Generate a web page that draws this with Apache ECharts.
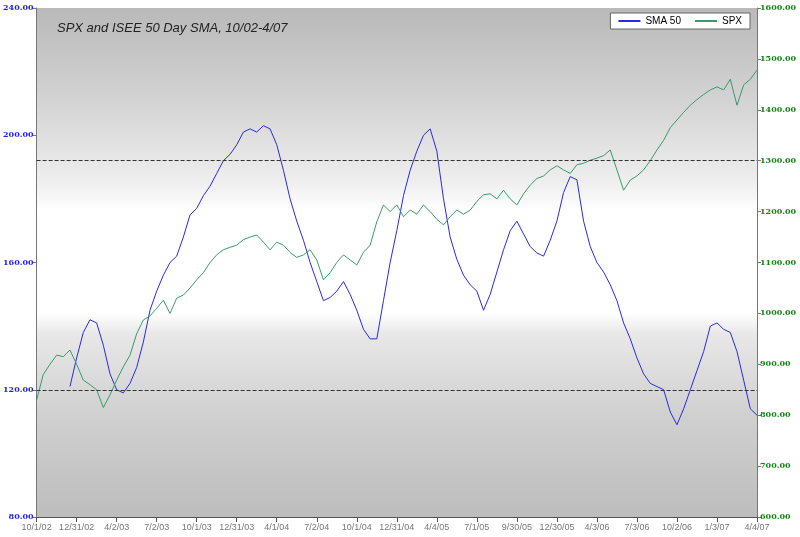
<!DOCTYPE html>
<html>
<head>
<meta charset="utf-8">
<script src="https://cdn.jsdelivr.net/npm/echarts@6/dist/echarts.min.js"></script>
<style>html,body{margin:0;padding:0;background:#fff}#chart{width:800px;height:537px}</style>
</head>
<body>
<div id="chart"></div>
<script>
// quarterly tick labels, 6 points per quarter
var tickLabels = ['10/1/02','12/31/02','4/2/03','7/2/03','10/1/03','12/31/03','4/1/04','7/2/04','10/1/04','12/31/04','4/4/05','7/1/05','9/30/05','12/30/05','4/3/06','7/3/06','10/2/06','1/3/07','4/4/07'];

var sma50 = [null,null,null,null,null,
  121,130,138,142,141,134,125,120,119,122,127,135,145,151,156,160,162,168,175,177,
  181,184,188,192,194,197,201,202,201,203,202,197,189,180,173,167,160,154,148,149,
  151,154,150,145,139,136,136,148,160,170,181,189,195,200,202,195,180,168,161,156,
  153,151,145,150,157,164,170,173,169,165,163,162,167,173,182,187,186,173,165,160,
  157,153,148,141,136,130,125,122,121,120,113,109,114,120,126,132,140,141,139,138,
  132,123,114,112];

var spx = [830,880,900,918,915,928,900,869,860,850,815,840,869,895,918,960,987,995,1010,1026,
  1000,1030,1036,1050,1066,1080,1100,1115,1125,1130,1134,1145,1150,1154,1140,1125,1140,1134,1120,1110,
  1115,1125,1105,1066,1080,1100,1115,1105,1095,1120,1134,1180,1213,1200,1213,1190,1203,1195,1213,1200,
  1185,1174,1190,1203,1195,1203,1220,1233,1235,1225,1242,1225,1213,1235,1252,1265,1270,1282,1290,1282,
  1275,1292,1295,1301,1305,1310,1321,1282,1242,1262,1270,1282,1300,1321,1340,1365,1380,1395,1409,1420,
  1430,1439,1445,1439,1460,1409,1449,1460,1478];

var refLines = [192, 120];

var categories = spx.map(function (v, i) { return String(i); });

var chart = echarts.init(document.getElementById('chart'));
chart.setOption({
  animation: false,
  backgroundColor: '#fff',
  title: {
    text: 'SPX and ISEE 50 Day SMA, 10/02-4/07',
    left: 52, top: 17,
    textStyle: { fontFamily: 'Arial', fontStyle: 'italic', fontWeight: 'normal', fontSize: 13, color: '#222' }
  },
  legend: {
    right: 50, top: 13, orient: 'horizontal',
    backgroundColor: '#fff', borderColor: '#666', borderWidth: 1, padding: [3, 8],
    itemWidth: 22, itemHeight: 2, itemGap: 14,
    textStyle: { fontFamily: 'Arial', fontSize: 10, color: '#000' },
    data: [{ name: 'SMA 50', icon: 'rect' }, { name: 'SPX', icon: 'rect' }]
  },
  grid: {
    left: 36, right: 43, top: 8, bottom: 20,
    show: true, borderWidth: 0,
    backgroundColor: new echarts.graphic.LinearGradient(0, 0, 0, 1, [
      { offset: 0, color: '#b9b9b9' },
      { offset: 0.2, color: '#d6d6d6' },
      { offset: 0.34, color: '#eeeeee' },
      { offset: 0.4, color: '#ffffff' },
      { offset: 0.6, color: '#ffffff' },
      { offset: 0.64, color: '#e8e8e8' },
      { offset: 0.8, color: '#d0d0d0' },
      { offset: 1, color: '#bdbdbd' }
    ])
  },
  xAxis: {
    type: 'category', data: categories, boundaryGap: false,
    axisLine: { lineStyle: { color: '#555' } },
    axisTick: { interval: 5, lineStyle: { color: '#555' } },
    axisLabel: {
      interval: 5, color: '#777', fontFamily: 'Arial', fontSize: 9, margin: 6,
      formatter: function (v, i) { return tickLabels[i / 6] || ''; }
    },
    splitLine: { show: false }
  },
  yAxis: [{
    type: 'value', min: 80, max: 240, interval: 40,
    axisLine: { show: true, lineStyle: { color: '#777' } },
    axisTick: { show: true, length: 4 },
    axisLabel: { color: '#2222ee', fontFamily: 'DejaVu Serif', fontWeight: 'bold', fontSize: 8, margin: 3,
      formatter: function (v) { return v.toFixed(2); } },
    splitLine: { show: false }
  }, {
    type: 'value', min: 600, max: 1600, interval: 100,
    axisLine: { show: true, lineStyle: { color: '#777' } },
    axisTick: { show: true, length: 4 },
    axisLabel: { color: '#118811', fontFamily: 'DejaVu Serif', fontWeight: 'bold', fontSize: 8, margin: 3,
      formatter: function (v) { return v.toFixed(2); } },
    splitLine: { show: false }
  }],
  series: [{
    name: 'SMA 50', type: 'line', yAxisIndex: 0, data: sma50,
    showSymbol: false, lineStyle: { color: '#2a2ae0', width: 1 }, itemStyle: { color: '#2a2ae0' },
    markLine: {
      silent: true, symbol: 'none', label: { show: false },
      lineStyle: { color: '#333', type: 'dashed', width: 1 },
      data: refLines.map(function (v) { return { yAxis: v }; })
    }
  }, {
    name: 'SPX', type: 'line', yAxisIndex: 1, data: spx,
    showSymbol: false, lineStyle: { color: '#3a9a6a', width: 1 }, itemStyle: { color: '#3a9a6a' }
  }]
});
</script>
</body>
</html>
